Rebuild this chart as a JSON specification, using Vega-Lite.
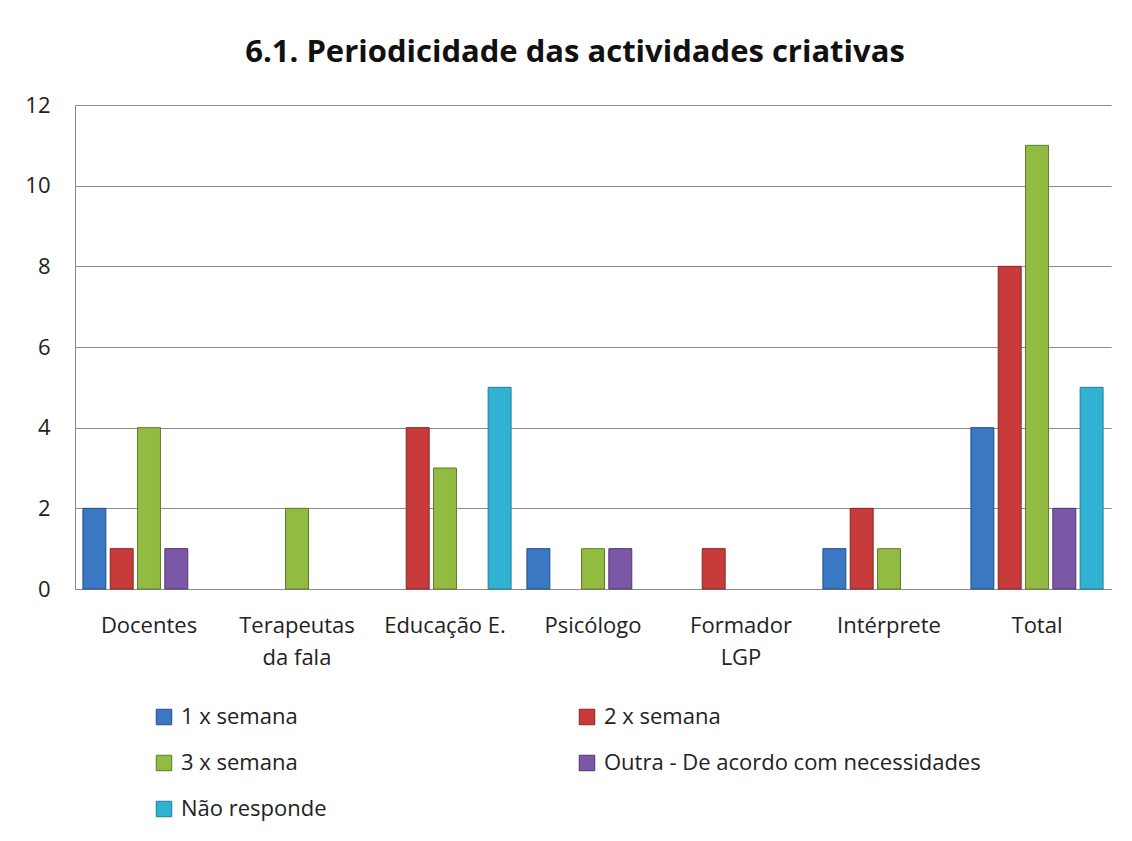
{
  "$schema": "https://vega.github.io/schema/vega-lite/v6.json",
  "width": 1036,
  "height": 484,
  "autosize": {"type": "none"},
  "padding": {"left": 75, "top": 105, "right": 21, "bottom": 252},
  "background": "white",
  "title": {
    "text": "6.1. Periodicidade das actividades criativas",
    "font": "Open Sans",
    "fontSize": 31,
    "fontWeight": "bold",
    "color": "#111111",
    "anchor": "middle",
    "dx": -18,
    "offset": 25
  },
  "config": {
    "view": {"stroke": null},
    "font": "Open Sans"
  },
  "data": {
    "values": [
      {"grupo": "Docentes", "serie": "1 x semana", "valor": 2},
      {"grupo": "Docentes", "serie": "2 x semana", "valor": 1},
      {"grupo": "Docentes", "serie": "3 x semana", "valor": 4},
      {"grupo": "Docentes", "serie": "Outra - De acordo com necessidades", "valor": 1},
      {"grupo": "Terapeutas da fala", "serie": "3 x semana", "valor": 2},
      {"grupo": "Educação E.", "serie": "2 x semana", "valor": 4},
      {"grupo": "Educação E.", "serie": "3 x semana", "valor": 3},
      {"grupo": "Educação E.", "serie": "Não responde", "valor": 5},
      {"grupo": "Psicólogo", "serie": "1 x semana", "valor": 1},
      {"grupo": "Psicólogo", "serie": "3 x semana", "valor": 1},
      {"grupo": "Psicólogo", "serie": "Outra - De acordo com necessidades", "valor": 1},
      {"grupo": "Formador LGP", "serie": "2 x semana", "valor": 1},
      {"grupo": "Intérprete", "serie": "1 x semana", "valor": 1},
      {"grupo": "Intérprete", "serie": "2 x semana", "valor": 2},
      {"grupo": "Intérprete", "serie": "3 x semana", "valor": 1},
      {"grupo": "Total", "serie": "1 x semana", "valor": 4},
      {"grupo": "Total", "serie": "2 x semana", "valor": 8},
      {"grupo": "Total", "serie": "3 x semana", "valor": 11},
      {"grupo": "Total", "serie": "Outra - De acordo com necessidades", "valor": 2},
      {"grupo": "Total", "serie": "Não responde", "valor": 5}
    ]
  },
  "mark": {"type": "bar", "strokeWidth": 1},
  "encoding": {
    "x": {
      "field": "grupo",
      "type": "nominal",
      "sort": ["Docentes", "Terapeutas da fala", "Educação E.", "Psicólogo", "Formador LGP", "Intérprete", "Total"],
      "scale": {"paddingInner": 0, "paddingOuter": 0},
      "axis": {
        "title": null,
        "labelAngle": 0,
        "labelFont": "Open Sans",
        "labelFontSize": 22,
        "labelColor": "#222222",
        "labelPadding": 36,
        "labelBaseline": "middle",
        "labelLineHeight": 32,
        "ticks": false,
        "domainColor": "#888888",
        "domainWidth": 1,
        "labelExpr": "datum.value == 'Terapeutas da fala' ? ['Terapeutas', 'da fala'] : datum.value == 'Formador LGP' ? ['Formador', 'LGP'] : datum.value"
      }
    },
    "xOffset": {
      "field": "serie",
      "type": "nominal",
      "scale": {
        "domain": ["1 x semana", "2 x semana", "3 x semana", "Outra - De acordo com necessidades", "Não responde"],
        "paddingInner": 0.16,
        "paddingOuter": 0.29
      }
    },
    "y": {
      "field": "valor",
      "type": "quantitative",
      "scale": {"domain": [0, 12]},
      "axis": {
        "title": null,
        "values": [0, 2, 4, 6, 8, 10, 12],
        "labelFont": "Open Sans",
        "labelFontSize": 22,
        "labelColor": "#222222",
        "labelPadding": 25,
        "ticks": false,
        "domainColor": "#888888",
        "gridColor": "#8c8c8c",
        "gridWidth": 1
      }
    },
    "color": {
      "field": "serie",
      "type": "nominal",
      "scale": {
        "domain": ["1 x semana", "2 x semana", "3 x semana", "Outra - De acordo com necessidades", "Não responde"],
        "range": ["#3a78c3", "#c83b3b", "#92bb42", "#7b58a6", "#31b2d2"]
      },
      "legend": {
        "title": null,
        "orient": "none",
        "legendX": 78,
        "legendY": 601,
        "columns": 2,
        "direction": "horizontal",
        "columnPadding": 249,
        "rowPadding": 24,
        "symbolType": "square",
        "symbolSize": 240,
        "symbolStrokeWidth": 1,
        "labelFont": "Open Sans",
        "labelFontSize": 22,
        "labelColor": "#222222",
        "labelOffset": 6,
        "labelLimit": 450,
        "symbolOffset": 0
      }
    },
    "stroke": {
      "field": "serie",
      "type": "nominal",
      "scale": {
        "domain": ["1 x semana", "2 x semana", "3 x semana", "Outra - De acordo com necessidades", "Não responde"],
        "range": ["#234f86", "#8a2323", "#5e7d26", "#4f3670", "#1e7f97"]
      },
      "legend": null
    }
  }
}
